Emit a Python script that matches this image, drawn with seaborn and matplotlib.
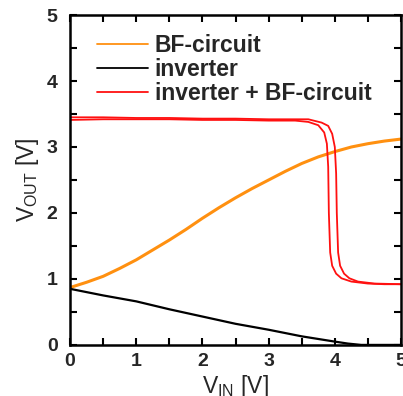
import numpy as np
import pandas as pd
import matplotlib
matplotlib.use("Agg")
import matplotlib.pyplot as plt
import seaborn as sns
from matplotlib.ticker import MultipleLocator

sns.set_style("ticks")
plt.rcParams['font.family'] = ['Liberation Sans', 'DejaVu Sans']
plt.rcParams['mathtext.fontset'] = 'custom'
plt.rcParams['mathtext.rm'] = 'Liberation Sans'
plt.rcParams['mathtext.it'] = 'Liberation Sans'

# BF-circuit (orange)
bf_vin = [0.0, 0.25, 0.5, 0.75, 1.0, 1.25, 1.5, 1.75, 2.0, 2.25, 2.5, 2.75, 3.0, 3.25, 3.5, 3.75, 4.0, 4.25, 4.5, 4.75, 5.0]
bf_vout = [0.87, 0.95, 1.04, 1.16, 1.29, 1.44, 1.59, 1.75, 1.92, 2.08, 2.23, 2.37, 2.50, 2.63, 2.75, 2.85, 2.93, 3.00, 3.05, 3.09, 3.12]

# inverter (black)
inv_vin = [0.0, 0.5, 1.0, 1.5, 2.0, 2.5, 3.0, 3.5, 4.0, 4.2, 4.4, 4.6, 5.0]
inv_vout = [0.85, 0.75, 0.66, 0.54, 0.43, 0.32, 0.23, 0.13, 0.05, 0.02, 0.0, 0.0, 0.0]

# inverter + BF-circuit (red), two sweep directions
red_a_vin = [0.0, 0.5, 1.0, 1.5, 2.0, 2.5, 3.0, 3.4, 3.6, 3.75, 3.84, 3.88, 3.9, 3.91, 3.93, 3.96, 4.02, 4.1, 4.25, 4.5, 4.75, 5.0]
red_a_vout = [3.41, 3.42, 3.42, 3.42, 3.41, 3.41, 3.40, 3.40, 3.38, 3.33, 3.22, 3.05, 2.70, 2.00, 1.40, 1.20, 1.08, 1.01, 0.96, 0.93, 0.92, 0.92]
red_b_vin = [0.0, 0.5, 1.0, 1.5, 2.0, 2.5, 3.0, 3.4, 3.6, 3.8, 3.9, 3.96, 4.0, 4.02, 4.03, 4.05, 4.08, 4.14, 4.22, 4.35, 4.6, 5.0]
red_b_vout = [3.45, 3.45, 3.44, 3.44, 3.43, 3.43, 3.42, 3.42, 3.42, 3.37, 3.32, 3.20, 3.00, 2.60, 2.00, 1.40, 1.20, 1.08, 1.01, 0.96, 0.93, 0.92]

fig = plt.figure(figsize=(4.03, 3.96), dpi=100)
ax = fig.add_axes([0.174, 0.129, 0.821, 0.833])

sns.lineplot(x=bf_vin, y=bf_vout, ax=ax, color="#ff9010", lw=2.2, label="BF-circuit", sort=False)
sns.lineplot(x=inv_vin, y=inv_vout, ax=ax, color="black", lw=1.6, label="inverter", sort=False)
sns.lineplot(x=red_a_vin, y=red_a_vout, ax=ax, color="#ff1010", lw=1.3, label="inverter + BF-circuit", sort=False)
sns.lineplot(x=red_b_vin, y=red_b_vout, ax=ax, color="#ff1010", lw=1.3, sort=False)

ax.set_xlim(0, 5)
ax.set_ylim(0, 5)
ax.xaxis.set_major_locator(MultipleLocator(1))
ax.xaxis.set_minor_locator(MultipleLocator(0.5))
ax.yaxis.set_major_locator(MultipleLocator(1))
ax.yaxis.set_minor_locator(MultipleLocator(0.5))
ax.tick_params(which="both", direction="in", top=True, right=True, width=1.5, color="black")
ax.tick_params(which="major", length=5, labelsize=14)
ax.tick_params(axis="y", which="major", pad=9)
ax.tick_params(axis="x", which="major", pad=6)
ax.tick_params(which="minor", length=5)
for lab in ax.get_xticklabels() + ax.get_yticklabels():
    lab.set_fontweight("bold")
for sp in ax.spines.values():
    sp.set_linewidth(1.8)
    sp.set_color("black")

ax.set_xlabel(r"$\mathregular{V_{IN}}$ [V]", fontsize=16.5, labelpad=2)
ax.set_ylabel(r"$\mathregular{V_{OUT}}$ [V]", fontsize=16.5, labelpad=4)

leg = ax.legend(loc="upper left", bbox_to_anchor=(0.055, 0.97), frameon=False,
                prop={"weight": "bold", "size": 16.5}, handlelength=2.2,
                handletextpad=0.3, labelspacing=0.05, borderaxespad=0.0)
for h in leg.get_lines():
    h.set_linewidth(1.3)

fig.savefig("out.png", dpi=100)
